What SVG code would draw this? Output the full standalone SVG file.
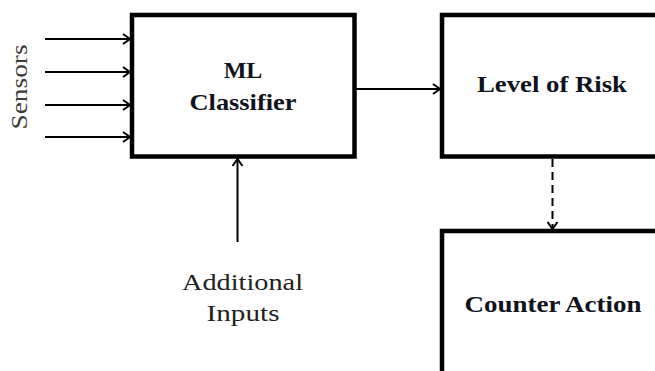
<svg xmlns="http://www.w3.org/2000/svg" width="655" height="371" viewBox="0 0 655 371">
<defs>
<style>
.box{fill:#fff;stroke:#000;stroke-width:4.5}
.lbl{font-family:"Liberation Serif","Times New Roman",serif;font-weight:bold;font-size:24px;fill:#10121c;text-anchor:middle}
.txt{font-family:"Liberation Serif","Times New Roman",serif;font-size:23px;fill:#222;text-anchor:middle}
.ln{stroke:#000;stroke-width:2;fill:none}
</style>
<marker id="ah" markerWidth="12" markerHeight="12" refX="9" refY="6" orient="auto" markerUnits="userSpaceOnUse">
<path d="M2,1 L9,6 L2,11" fill="none" stroke="#000" stroke-width="2"/>
</marker>
</defs>
<rect width="655" height="371" fill="#fff"/>
<g id="connectors">
<line class="ln" x1="45" y1="39" x2="130" y2="39" marker-end="url(#ah)"/>
<line class="ln" x1="45" y1="72" x2="130" y2="72" marker-end="url(#ah)"/>
<line class="ln" x1="45" y1="105" x2="130" y2="105" marker-end="url(#ah)"/>
<line class="ln" x1="45" y1="137" x2="130" y2="137" marker-end="url(#ah)"/>
<line class="ln" x1="356" y1="89" x2="440" y2="89" marker-end="url(#ah)"/>
<line class="ln" x1="237.5" y1="242" x2="237.5" y2="159" marker-end="url(#ah)"/>
<line class="ln" x1="552.5" y1="159" x2="552.5" y2="229" stroke-dasharray="8,5" marker-end="url(#ah)"/>
</g>
<g id="sensors">
<text class="txt" transform="translate(27,87) rotate(-90)" style="fill:#3a3a3a" textLength="85" lengthAdjust="spacingAndGlyphs">Sensors</text>
</g>
<g id="ml-classifier">
<rect class="box" x="132" y="15" width="222.5" height="141.5"/>
<text class="lbl" x="243" y="78">ML</text>
<text class="lbl" x="243" y="110" textLength="107" lengthAdjust="spacingAndGlyphs">Classifier</text>
</g>
<g id="level-of-risk">
<rect class="box" x="442" y="15" width="230" height="141.5"/>
<text class="lbl" x="552" y="92" textLength="150" lengthAdjust="spacingAndGlyphs">Level of Risk</text>
</g>
<g id="additional-inputs">
<text class="txt" x="242.5" y="290" textLength="121" lengthAdjust="spacingAndGlyphs">Additional</text>
<text class="txt" x="243" y="321" textLength="73" lengthAdjust="spacingAndGlyphs">Inputs</text>
</g>
<g id="counter-action">
<rect class="box" x="442" y="231" width="230" height="160"/>
<text class="lbl" x="553" y="312" textLength="177" lengthAdjust="spacingAndGlyphs">Counter Action</text>
</g>
</svg>
